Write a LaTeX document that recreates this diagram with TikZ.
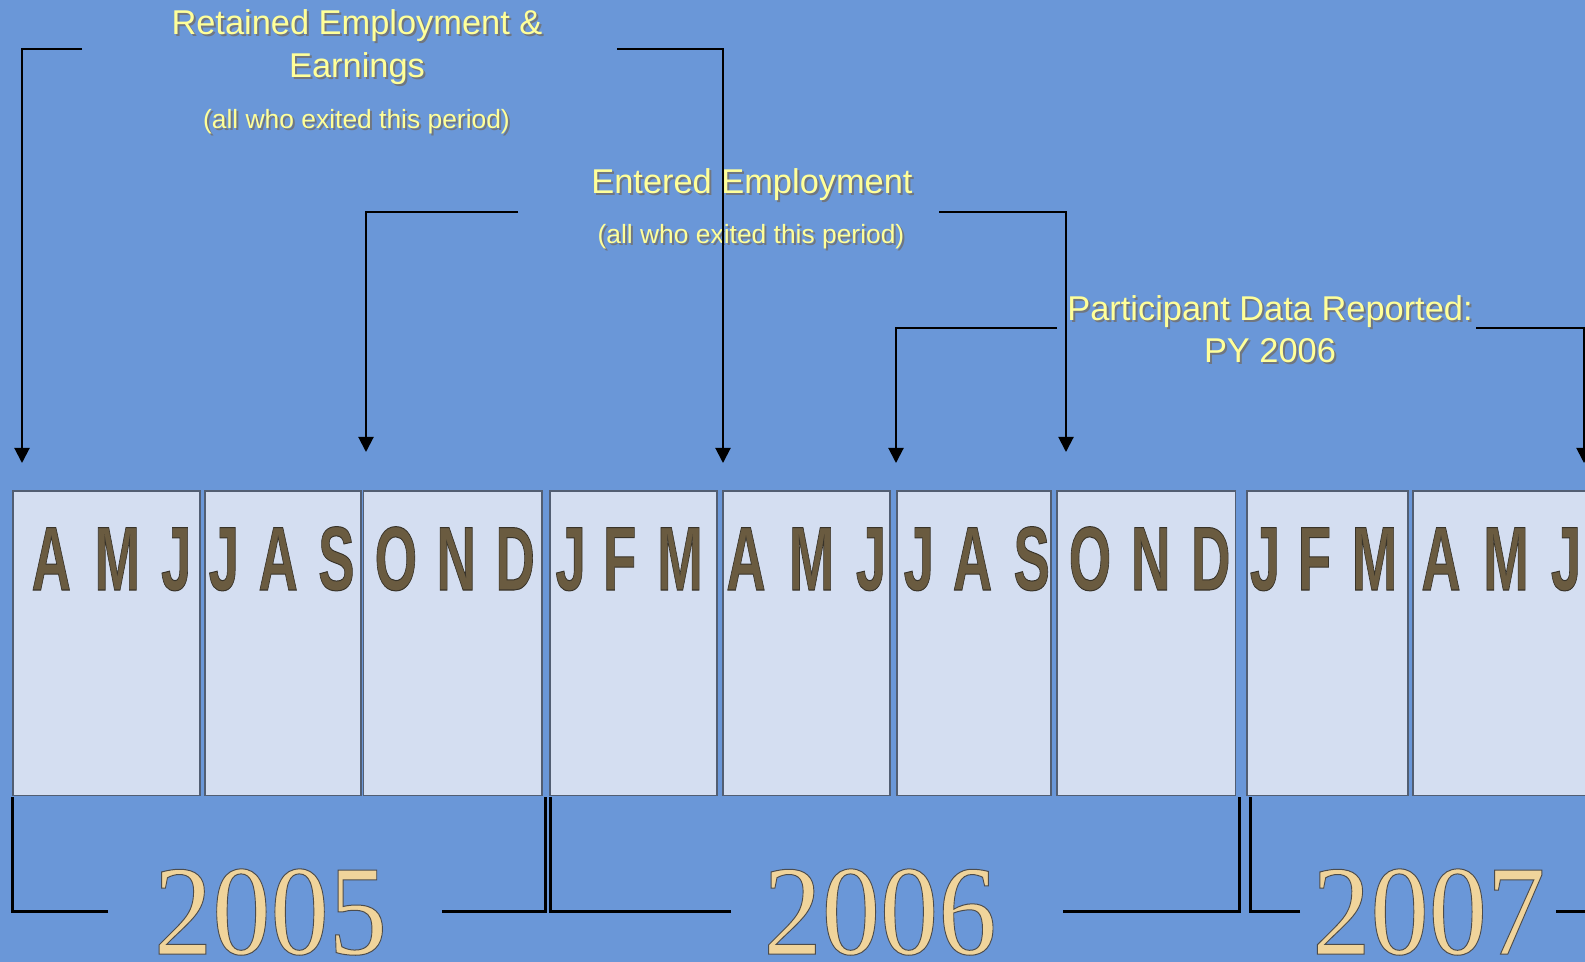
\documentclass[tikz,border=0pt]{standalone}
\usepackage{fontspec}
\setmainfont{Liberation Sans}
\newfontfamily\yearfont{Liberation Serif}
\usepackage{xcolor}
\usetikzlibrary{arrows.meta}

\definecolor{slideblue}{RGB}{106,151,216}
\definecolor{boxfill}{RGB}{212,222,241}
\definecolor{boxline}{RGB}{82,94,114}
\definecolor{lettercol}{RGB}{106,91,64}
\definecolor{labelyellow}{RGB}{255,255,153}
\definecolor{labelshadow}{RGB}{112,118,128}
\definecolor{yearcol}{RGB}{240,212,155}

% outlined glyphs (fill + stroke)
\newcommand{\outlined}[2]{\special{pdf:literal direct 2 Tr 0.5 w #1 RG}#2\special{pdf:literal direct 0 Tr}}
% label text with a drop shadow
\newcommand{\shadowed}[1]{\makebox[0pt][l]{\hspace{1pt}\raisebox{-1pt}{\color{labelshadow}#1}}#1}
\newcommand{\monthletter}[1]{\scalebox{0.6}[1]{\fontsize{45.4}{46}\selectfont\bfseries\outlined{0.22 0.2 0.16}{#1}}}
\newcommand{\yeartext}[1]{\scalebox{0.91}[1]{\fontsize{64}{65}\selectfont\yearfont\outlined{0.3 0.3 0.3}{#1}}}

\tikzset{
  arr/.style={line width=1pt, -{Triangle[length=7.5pt,width=7.5pt]}},
  bracket/.style={line width=1.5pt},
  monthbox/.style={fill=boxfill, draw=boxline, line width=0.7pt},
  month/.style={text=lettercol, inner sep=0pt, anchor=base},
  year/.style={text=yearcol, inner sep=0pt, anchor=base},
  headline/.style={text=labelyellow, font=\fontsize{17.2}{19}\selectfont, align=center, inner sep=0pt, anchor=base},
  subline/.style={text=labelyellow, font=\fontsize{13.2}{15}\selectfont, inner sep=0pt, anchor=base}
}

\begin{document}
\begin{tikzpicture}[x=0.5pt,y=0.5pt,yscale=-1,xscale=1]
\useasboundingbox (0,0) rectangle (1585,962);
%Background
\fill[slideblue] (0,0) rectangle (1585,962);

%Month boxes
\foreach \l/\r in {13/200, 205/361, 363.5/542, 550/717, 723/890, 897/1051, 1057/1235.5, 1247/1408, 1413/1600}
  \draw[monthbox] (\l,491) rectangle (\r,795.5);

%Month letters
\foreach \x/\m [count=\i] in {51.3/A, 117.3/M, 176.2/J, 223.8/J, 278.2/A, 336.4/S, 395.9/O, 456.2/N, 515.2/D,
    570.6/J, 619.7/F, 680/M, 746/A, 811.6/M, 871/J, 918.8/J, 972.5/A, 1031.7/S, 1090/O, 1150.7/N, 1210.8/D,
    1265/J, 1314.5/F, 1374.5/M, 1441/A, 1506/M, 1566/J}
  \node[month] (m\i) at (\x,590) {\monthletter{\m}};

% Text Node (anchor base = last line)
\node[headline] (ret) at (357,78) {\shadowed{Retained Employment \&}\\[2.5pt]\shadowed{Earnings}};
\node[subline] (retsub) at (356.5,129) {\shadowed{(all who exited this period)}};
% Text Node
\node[headline] (ent) at (752,194) {\shadowed{Entered Employment}};
\node[subline] (entsub) at (751,244) {\shadowed{(all who exited this period)}};
% Text Node
\node[headline] (part) at (1270,362.5) {\shadowed{Participant Data Reported:}\\[1.85pt]\shadowed{PY 2006}};

% Year Nodes
\node[year] (y2005) at (270.5,954) {\yeartext{2005}};
\node[year] (y2006) at (880,954) {\yeartext{2006}};
\node[year] (y2007) at (1428.7,954) {\yeartext{2007}};

%Arrow ends
\coordinate (ret-l) at (82,49);    \coordinate (ret-ltip) at (22,463);
\coordinate (ret-r) at (617,49);   \coordinate (ret-rtip) at (723,463);
\coordinate (ent-l) at (518,212);  \coordinate (ent-ltip) at (366,452);
\coordinate (ent-r) at (939,212);  \coordinate (ent-rtip) at (1066,452);
\coordinate (part-l) at (1057,328); \coordinate (part-ltip) at (896,463);
\coordinate (part-r) at (1476,328); \coordinate (part-rtip) at (1584,463);

%Straight Lines
\draw[arr] (ret-l) -| (ret-ltip);
\draw[arr] (ret-r) -| (ret-rtip);
\draw[arr] (ent-l) -| (ent-ltip);
\draw[arr] (ent-r) -| (ent-rtip);
\draw[arr] (part-l) -| (part-ltip);
\draw[arr] (part-r) -| (part-rtip);

%Year brackets
\draw[bracket] (108,911) -| (12,797);
\draw[bracket] (442,911) -| (545,797);
\draw[bracket] (731,911) -| (550,797);
\draw[bracket] (1063,911) -| (1239,797);
\draw[bracket] (1300,911) -| (1250,797);
\draw[bracket] (1556,911) -- (1590,911);
\end{tikzpicture}
\end{document}
